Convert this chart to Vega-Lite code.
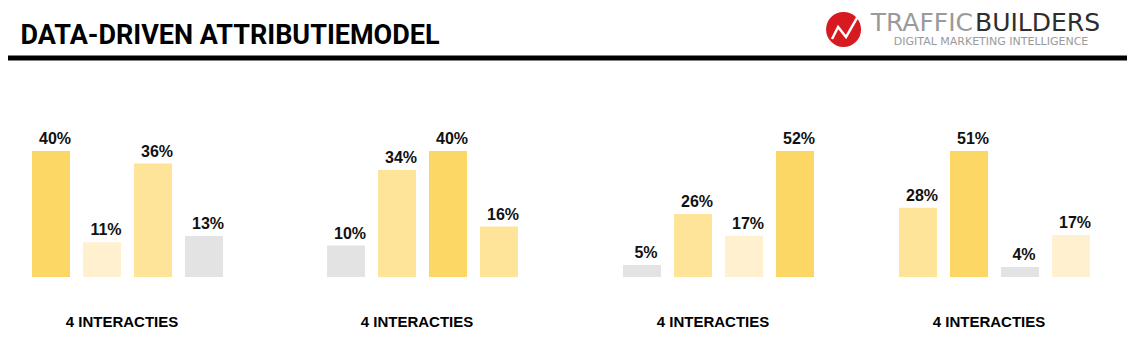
{
  "$schema": "https://vega.github.io/schema/vega-lite/v6.json",
  "background": "white",
  "padding": {"left": 5, "right": 0, "top": 0, "bottom": 0},
  "bounds": "flush",
  "spacing": 93,
  "config": {"view": {"stroke": null}, "text": {"font": "Liberation Sans"}, "title": {"orient": "bottom", "anchor": "middle", "font": "Liberation Sans", "fontWeight": "bold", "fontSize": 15, "color": "#000", "baseline": "alphabetic", "offset": 38}},
  "datasets": {
    "aandelen": [
      {"reeks": "A", "stap": 1, "aandeel": 0.40, "niveau": "hoog"},
      {"reeks": "A", "stap": 2, "aandeel": 0.11, "niveau": "laag"},
      {"reeks": "A", "stap": 3, "aandeel": 0.36, "niveau": "midden"},
      {"reeks": "A", "stap": 4, "aandeel": 0.13, "niveau": "minimaal"},
      {"reeks": "B", "stap": 1, "aandeel": 0.10, "niveau": "minimaal"},
      {"reeks": "B", "stap": 2, "aandeel": 0.34, "niveau": "midden"},
      {"reeks": "B", "stap": 3, "aandeel": 0.40, "niveau": "hoog"},
      {"reeks": "B", "stap": 4, "aandeel": 0.16, "niveau": "midden"},
      {"reeks": "C", "stap": 1, "aandeel": 0.05, "niveau": "minimaal"},
      {"reeks": "C", "stap": 2, "aandeel": 0.26, "niveau": "midden"},
      {"reeks": "C", "stap": 3, "aandeel": 0.17, "niveau": "laag"},
      {"reeks": "C", "stap": 4, "aandeel": 0.52, "niveau": "hoog"},
      {"reeks": "D", "stap": 1, "aandeel": 0.28, "niveau": "midden"},
      {"reeks": "D", "stap": 2, "aandeel": 0.51, "niveau": "hoog"},
      {"reeks": "D", "stap": 3, "aandeel": 0.04, "niveau": "minimaal"},
      {"reeks": "D", "stap": 4, "aandeel": 0.17, "niveau": "laag"}
    ]
  },
  "vconcat": [
    {
      "width": 1119,
      "height": 58,
      "data": {"values": [{"tekst": "DATA-DRIVEN ATTRIBUTIEMODEL"}]},
      "layer": [
        {
          "mark": {"type": "text", "align": "left", "baseline": "alphabetic", "font": "Roboto", "fontWeight": "bold", "fontSize": 27, "color": "#000"},
          "encoding": {
            "x": {"datum": 0.0112, "type": "quantitative", "scale": {"domain": [0, 1]}, "axis": null},
            "y": {"datum": 0.25, "type": "quantitative", "scale": {"domain": [0, 1]}, "axis": null},
            "text": {"field": "tekst", "type": "nominal"}
          }
        },
        {
          "mark": {"type": "rule", "color": "#000", "strokeWidth": 5},
          "encoding": {
            "x": {"datum": 0, "type": "quantitative"},
            "x2": {"datum": 1},
            "y": {"datum": 0, "type": "quantitative"}
          }
        },
        {
          "data": {"values": [{"merk": "Trafficbuilders"}]},
          "mark": {"type": "point", "shape": "circle", "filled": true, "color": "#d71920", "size": 1225, "opacity": 1},
          "encoding": {
            "x": {"datum": 0.7467, "type": "quantitative"},
            "y": {"datum": 0.4914, "type": "quantitative"}
          }
        },
        {
          "data": {"values": [{"merk": "Trafficbuilders"}]},
          "mark": {"type": "point", "shape": "M-0.66,0.54L-0.31,-0.14L0.14,0.43L0.77,-0.66", "filled": false, "stroke": "#fff", "strokeWidth": 2.5, "size": 1225, "opacity": 1, "strokeJoin": "miter"},
          "encoding": {
            "x": {"datum": 0.7467, "type": "quantitative"},
            "y": {"datum": 0.4914, "type": "quantitative"}
          }
        },
        {
          "data": {"values": [{"deel": "TRAFFIC"}]},
          "mark": {"type": "text", "align": "right", "baseline": "alphabetic", "font": "DejaVu Sans", "fontWeight": "normal", "fontSize": 25, "color": "#9a9a9a"},
          "encoding": {
            "x": {"datum": 0.8624, "type": "quantitative"},
            "y": {"datum": 0.4655, "type": "quantitative"},
            "text": {"field": "deel", "type": "nominal"}
          }
        },
        {
          "data": {"values": [{"deel": "BUILDERS"}]},
          "mark": {"type": "text", "align": "left", "baseline": "alphabetic", "font": "DejaVu Sans", "fontWeight": "normal", "fontSize": 25, "color": "#2e2e2e"},
          "encoding": {
            "x": {"datum": 0.8642, "type": "quantitative"},
            "y": {"datum": 0.4655, "type": "quantitative"},
            "text": {"field": "deel", "type": "nominal"}
          }
        },
        {
          "data": {"values": [{"deel": "DIGITAL MARKETING INTELLIGENCE"}]},
          "mark": {"type": "text", "align": "center", "baseline": "alphabetic", "font": "DejaVu Sans", "fontSize": 11, "color": "#9a9a9a"},
          "encoding": {
            "x": {"datum": 0.8785, "type": "quantitative"},
            "y": {"datum": 0.2241, "type": "quantitative"},
            "text": {"field": "deel", "type": "nominal"}
          }
        }
      ]
    },
    {
      "spacing": 40,
      "resolve": {"scale": {"x": "independent", "y": "independent"}},
      "hconcat": [
        {
          "width": 228, "height": 126,
          "title": "4 INTERACTIES",
          "data": {"name": "aandelen"},
          "transform": [{"filter": "datum.reeks === 'A'"}],
          "encoding": {
            "x": {"field": "stap", "type": "ordinal", "axis": null, "scale": {"paddingInner": 0.2549, "paddingOuter": 0.3627, "align": 0.6486}},
            "y": {"field": "aandeel", "type": "quantitative", "axis": null, "scale": {"nice": false, "zero": true}}
          },
          "layer": [
            {"mark": {"type": "bar"}, "encoding": {"color": {"field": "niveau", "type": "nominal", "legend": null, "scale": {"domain": ["hoog", "midden", "laag", "minimaal"], "range": ["#fdd766", "#fee499", "#fff1cf", "#e3e3e3"]}}}},
            {"mark": {"type": "text", "dy": -7, "dx": 4, "baseline": "alphabetic", "fontSize": 16, "fontWeight": "bold", "color": "#111"}, "encoding": {"text": {"field": "aandeel", "type": "quantitative", "format": ".0%"}}}
          ]
        },
        {
          "width": 282, "height": 126,
          "title": "4 INTERACTIES",
          "data": {"name": "aandelen"},
          "transform": [{"filter": "datum.reeks === 'B'"}],
          "encoding": {
            "x": {"field": "stap", "type": "ordinal", "axis": null, "scale": {"paddingInner": 0.2549, "paddingOuter": 0.8922, "align": 0.5604}},
            "y": {"field": "aandeel", "type": "quantitative", "axis": null, "scale": {"nice": false, "zero": true}}
          },
          "layer": [
            {"mark": {"type": "bar"}, "encoding": {"color": {"field": "niveau", "type": "nominal", "legend": null, "scale": {"domain": ["hoog", "midden", "laag", "minimaal"], "range": ["#fdd766", "#fee499", "#fff1cf", "#e3e3e3"]}}}},
            {"mark": {"type": "text", "dy": -7, "dx": 4, "baseline": "alphabetic", "fontSize": 16, "fontWeight": "bold", "color": "#111"}, "encoding": {"text": {"field": "aandeel", "type": "quantitative", "format": ".0%"}}}
          ]
        },
        {
          "width": 230, "height": 126,
          "title": "4 INTERACTIES",
          "data": {"name": "aandelen"},
          "transform": [{"filter": "datum.reeks === 'C'"}],
          "encoding": {
            "x": {"field": "stap", "type": "ordinal", "axis": null, "scale": {"paddingInner": 0.2549, "paddingOuter": 0.3824, "align": 0.641}},
            "y": {"field": "aandeel", "type": "quantitative", "axis": null, "scale": {"nice": false, "zero": true}}
          },
          "layer": [
            {"mark": {"type": "bar"}, "encoding": {"color": {"field": "niveau", "type": "nominal", "legend": null, "scale": {"domain": ["hoog", "midden", "laag", "minimaal"], "range": ["#fdd766", "#fee499", "#fff1cf", "#e3e3e3"]}}}},
            {"mark": {"type": "text", "dy": -7, "dx": 4, "baseline": "alphabetic", "fontSize": 16, "fontWeight": "bold", "color": "#111"}, "encoding": {"text": {"field": "aandeel", "type": "quantitative", "format": ".0%"}}}
          ]
        },
        {
          "width": 242, "height": 126,
          "title": "4 INTERACTIES",
          "data": {"name": "aandelen"},
          "transform": [{"filter": "datum.reeks === 'D'"}],
          "encoding": {
            "x": {"field": "stap", "type": "ordinal", "axis": null, "scale": {"paddingInner": 0.2549, "paddingOuter": 0.5, "align": 0.6078}},
            "y": {"field": "aandeel", "type": "quantitative", "axis": null, "scale": {"nice": false, "zero": true}}
          },
          "layer": [
            {"mark": {"type": "bar"}, "encoding": {"color": {"field": "niveau", "type": "nominal", "legend": null, "scale": {"domain": ["hoog", "midden", "laag", "minimaal"], "range": ["#fdd766", "#fee499", "#fff1cf", "#e3e3e3"]}}}},
            {"mark": {"type": "text", "dy": -7, "dx": 4, "baseline": "alphabetic", "fontSize": 16, "fontWeight": "bold", "color": "#111"}, "encoding": {"text": {"field": "aandeel", "type": "quantitative", "format": ".0%"}}}
          ]
        }
      ]
    }
  ]
}
